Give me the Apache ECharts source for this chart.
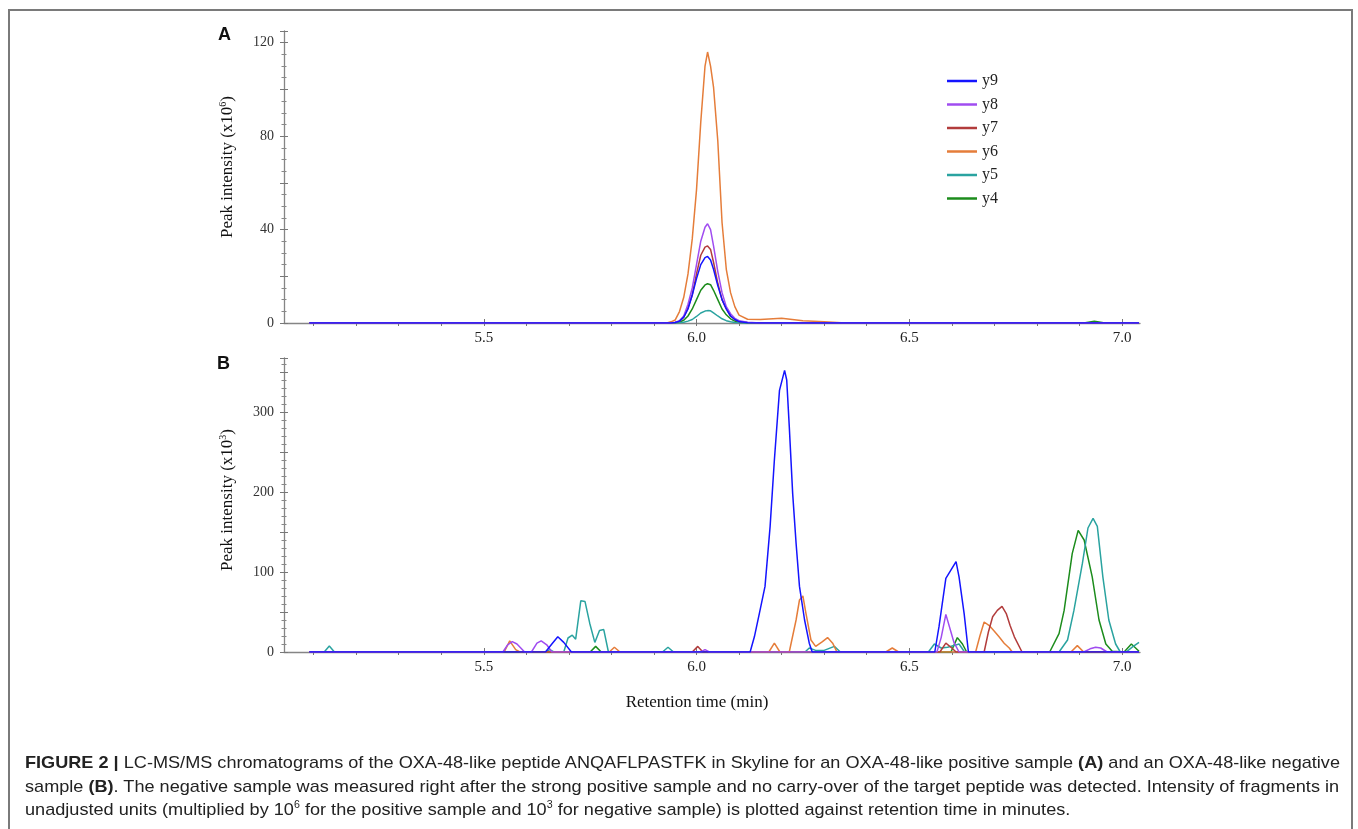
<!DOCTYPE html>
<html>
<head>
<meta charset="utf-8">
<title>Figure 2</title>
<script src="https://cdn.jsdelivr.net/npm/echarts@6/dist/echarts.min.js"></script>
<style>
body { margin: 0; background: #fff; }
#chart { position: absolute; left: 0; top: 0; width: 1358px; height: 829px; }
#frame { position: absolute; left: 8px; top: 9px; width: 1345px; height: 840px; border: 2px solid #7a7a7a; box-sizing: border-box; }
#caption { position: absolute; left: 25px; top: 751px; width: 1320px; font-family: 'Liberation Sans', Arial, sans-serif; font-size: 17px; line-height: 23.5px; color: #222; }
#caption div { white-space: nowrap; height: 23.5px; }
#caption span.ln { display: inline-block; transform-origin: 0 0; }
#caption sup { font-size: 10px; line-height: 0; }
</style>
</head>
<body>
<div id="frame"></div>
<div id="chart"></div>
<div id="caption">
  <div><span class="ln"><b>FIGURE 2 |</b> LC-MS/MS chromatograms of the OXA-48-like peptide ANQAFLPASTFK in Skyline for an OXA-48-like positive sample <b>(A)</b> and an OXA-48-like negative</span></div>
  <div><span class="ln">sample <b>(B)</b>. The negative sample was measured right after the strong positive sample and no carry-over of the target peptide was detected. Intensity of fragments in</span></div>
  <div><span class="ln">unadjusted units (multiplied by 10<sup>6</sup> for the positive sample and 10<sup>3</sup> for negative sample) is plotted against retention time in minutes.</span></div>
</div>
<script>
// fragment names, legend order
var ions = ['y9', 'y8', 'y7', 'y6', 'y5', 'y4'];
var ionColors = ['#1414ff', '#a04cf0', '#b23c3c', '#e57d3a', '#2aa3a0', '#1c8c1c'];

// x ticks (retention time, min)
var xTicks = [5.1, 5.2, 5.3, 5.4, 5.5, 5.6, 5.7, 5.8, 5.9, 6.0, 6.1, 6.2, 6.3, 6.4, 6.5, 6.6, 6.7, 6.8, 6.9, 7.0];
var xLabels = [5.5, 6.0, 6.5, 7.0];

// panel A : positive sample, intensity x10^6
var timesA = [5.09, 5.93, 5.94, 5.95, 5.96, 5.97, 5.98, 5.99, 6.00, 6.01, 6.02, 6.026, 6.033, 6.04, 6.05, 6.06, 6.07, 6.08, 6.09, 6.10, 6.12, 6.15, 6.20, 6.25, 6.30, 6.35, 6.91, 6.935, 6.96, 7.04];
var y9A = [0, 0, 0, 0.2, 0.8, 2.5, 6, 12, 19, 25, 28, 28.5, 27, 23, 16, 10, 6, 3, 1.5, 0.6, 0.1, 0, 0, 0, 0, 0, 0, 0, 0, 0];
var y8A = [0, 0, 0, 0.3, 1, 3, 8, 15, 25, 35, 41, 42.5, 40, 33, 22, 13, 7, 4, 2, 1, 0.3, 0, 0, 0, 0, 0, 0, 0, 0, 0];
var y7A = [0, 0, 0, 0.2, 0.8, 2.5, 6.5, 12, 21, 29, 32.5, 33, 31.5, 26, 17, 10, 6, 3, 1.5, 0.6, 0.2, 0, 0, 0, 0, 0, 0, 0, 0, 0];
var y6A = [0, 0, 0.5, 1.3, 4.9, 11, 21, 36, 57, 86, 110, 116, 110, 101, 78, 43, 23, 13, 7, 3.4, 1.6, 1.5, 2, 1, 0.5, 0, 0, 0, 0, 0];
var y5A = [0, 0, 0, 0, 0.1, 0.3, 0.8, 1.5, 2.8, 4.3, 5.1, 5.3, 5.2, 4.3, 3, 1.8, 1, 0.5, 0.2, 0.1, 0, 0, 0, 0, 0, 0, 0, 0, 0, 0];
var y4A = [0, 0, 0, 0.1, 0.4, 1.2, 3, 6, 10, 14, 16.3, 16.8, 16.4, 14, 10, 6, 3.5, 1.8, 0.8, 0.3, 0.1, 0, 0, 0, 0, 0, 0, 0.8, 0, 0];

// panel B : negative sample, intensity x10^3, [time, value]
var y9B = [[5.09, 0], [5.645, 0], [5.66, 10], [5.674, 19], [5.688, 12], [5.706, 0], [6.126, 0], [6.136, 19], [6.148, 49], [6.161, 82], [6.173, 157], [6.183, 240], [6.195, 327], [6.207, 352], [6.212, 340], [6.218, 282], [6.226, 198], [6.234, 136], [6.242, 82], [6.254, 40], [6.265, 11], [6.272, 0], [6.56, 0], [6.570, 32], [6.586, 92], [6.610, 113], [6.617, 94], [6.629, 48], [6.639, 0], [7.04, 0]];
var y8B = [[5.09, 0], [5.545, 0], [5.556, 9], [5.567, 13], [5.578, 10], [5.596, 0], [5.612, 0], [5.625, 11], [5.635, 14], [5.648, 9], [5.66, 0], [6.01, 0], [6.02, 3], [6.03, 0], [6.565, 0], [6.575, 18], [6.586, 47], [6.598, 25], [6.605, 12], [6.617, 0], [6.91, 0], [6.925, 4], [6.938, 6], [6.95, 5], [6.965, 0], [7.04, 0]];
var y7B = [[5.09, 0], [5.99, 0], [6.003, 7], [6.015, 0], [6.572, 0], [6.586, 11], [6.60, 5], [6.61, 0], [6.676, 0], [6.686, 25], [6.696, 44], [6.707, 52], [6.718, 57], [6.728, 48], [6.737, 33], [6.747, 19], [6.765, 0], [7.04, 0]];
var y6B = [[5.09, 0], [5.548, 0], [5.561, 14], [5.575, 3], [5.585, 0], [5.795, 0], [5.807, 6], [5.82, 0], [6.17, 0], [6.183, 11], [6.196, 0], [6.218, 0], [6.234, 40], [6.242, 65], [6.250, 70], [6.257, 49], [6.269, 15], [6.28, 7], [6.296, 13], [6.308, 18], [6.32, 11], [6.33, 0], [6.445, 0], [6.46, 5], [6.475, 0], [6.656, 0], [6.666, 20], [6.676, 37.5], [6.688, 33], [6.70, 26], [6.711, 19], [6.723, 11], [6.735, 5], [6.742, 0], [6.88, 0], [6.895, 8], [6.91, 0], [7.04, 0]];
var y5B = [[5.09, 0], [5.125, 0], [5.137, 7.5], [5.149, 0], [5.645, 0], [5.655, 3], [5.665, 0], [5.688, 0], [5.698, 17.5], [5.708, 21], [5.716, 16], [5.728, 64], [5.738, 63], [5.749, 36], [5.761, 12], [5.772, 27], [5.782, 28], [5.793, 0], [5.92, 0], [5.933, 6], [5.946, 0], [6.255, 0], [6.265, 5], [6.28, 2], [6.30, 2], [6.324, 7], [6.338, 0], [6.545, 0], [6.559, 10], [6.575, 5], [6.59, 6], [6.605, 8], [6.617, 10], [6.63, 0], [6.852, 0], [6.872, 15], [6.887, 52], [6.907, 111], [6.920, 155], [6.932, 167], [6.942, 157], [6.955, 94], [6.969, 40], [6.985, 10], [6.996, 0], [7.01, 0], [7.024, 6], [7.04, 12]];
var y4B = [[5.09, 0], [5.75, 0], [5.763, 7], [5.776, 0], [6.598, 0], [6.613, 18], [6.625, 10], [6.635, 0], [6.830, 0], [6.852, 23], [6.864, 52], [6.883, 123], [6.897, 152], [6.911, 140], [6.930, 94], [6.946, 40], [6.962, 10], [6.977, 1], [7.005, 0], [7.022, 10], [7.04, 1]];

var X_MIN = 5.0305, X_MAX = 7.0423;
var serif = 'Liberation Serif';
var axisGray = '#858585';

function xAxisMain(grid, withName) {
	var ax = {
		type : 'value', gridIndex : grid, min : X_MIN, max : X_MAX, position : 'bottom',
		axisLine : { lineStyle : { color : axisGray, width : 1.3 } },
		axisTick : { customValues : xTicks, length : 3, lineStyle : { color : '#777' } },
		axisLabel : { customValues : xLabels, margin : 8, fontFamily : serif, fontSize : 15, color : '#222',
			formatter : function(v) { return v.toFixed(1); } },
		splitLine : { show : false }
	};
	if (withName) {
		ax.name = 'Retention time (min)';
		ax.nameLocation = 'middle';
		ax.nameGap = 42;
		ax.nameTextStyle = { fontFamily : serif, fontSize : 17, color : '#111', padding : [ 0, 30, 0, 0 ] };
	}
	return ax;
}
function xAxisInner(grid) {
	return {
		type : 'value', gridIndex : grid, min : X_MIN, max : X_MAX, position : 'bottom',
		axisLine : { show : false },
		axisTick : { inside : true, customValues : xLabels, length : 4, lineStyle : { color : '#777' } },
		axisLabel : { show : false }, splitLine : { show : false }
	};
}
function yAxisMain(grid, max, interval, step, minor, nameRich, pad) {
	return {
		type : 'value', gridIndex : grid, min : 0, max : max, interval : interval, position : 'left',
		axisLine : { show : true, lineStyle : { color : axisGray, width : 1.3 } },
		axisTick : { show : true, length : 4, lineStyle : { color : '#777' } },
		minorTick : { show : true, splitNumber : minor, length : 2.5, lineStyle : { color : '#888' } },
		axisLabel : { margin : 10, fontFamily : serif, fontSize : 14, color : '#333',
			formatter : function(v) { return v % step === 0 ? String(v) : ''; } },
		splitLine : { show : false },
		name : nameRich, nameLocation : 'middle', nameRotate : 90, nameGap : 46,
		nameTextStyle : { fontFamily : serif, fontSize : 17, color : '#111', padding : pad,
			rich : {
				a : { fontFamily : serif, fontSize : 17, color : '#111', lineHeight : 20 },
				s : { fontFamily : serif, fontSize : 10, color : '#111', lineHeight : 20, verticalAlign : 'top', padding : [ 0, 0, 6, 0 ] }
			} }
	};
}
function yAxisInner(grid, max, interval, minor) {
	return {
		type : 'value', gridIndex : grid, min : 0, max : max, interval : interval, position : 'left',
		axisLine : { show : false },
		axisTick : { show : true, inside : true, length : 4, lineStyle : { color : '#777' } },
		minorTick : { show : true, splitNumber : minor, length : 2.5, lineStyle : { color : '#888' } },
		axisLabel : { show : false }, splitLine : { show : false }
	};
}

var seriesList = [];
var dataA = [ y9A, y8A, y7A, y6A, y5A, y4A ];
var dataB = [ y9B, y8B, y7B, y6B, y5B, y4B ];
// draw y4 first so y9 (blue) ends up on top
for (var i = ions.length - 1; i >= 0; i--) {
	seriesList.push({
		name : ions[i], type : 'line', xAxisIndex : 0, yAxisIndex : 0,
		showSymbol : false, symbol : 'none', smooth : false,
		lineStyle : { width : 1.5, color : ionColors[i] }, itemStyle : { color : ionColors[i] },
		data : timesA.map(function(t, k) { return [ t, dataA[i][k] ]; })
	});
}
for (var j = ions.length - 1; j >= 0; j--) {
	seriesList.push({
		name : ions[j], type : 'line', xAxisIndex : 2, yAxisIndex : 2,
		showSymbol : false, symbol : 'none', smooth : false,
		lineStyle : { width : 1.5, color : ionColors[j] }, itemStyle : { color : ionColors[j] },
		data : dataB[j]
	});
}

var chart = echarts.init(document.getElementById('chart'), null, { renderer : 'canvas' });
chart.setOption({
	animation : false,
	backgroundColor : 'transparent',
	grid : [
		{ left : 284, right : 218, top : 31, height : 292 },
		{ left : 284, right : 218, top : 358, height : 294 }
	],
	legend : {
		data : ions, orient : 'vertical', left : 942, top : 68,
		icon : 'rect', itemWidth : 30, itemHeight : 2.5, itemGap : 7.5,
		textStyle : { fontFamily : serif, fontSize : 16, color : '#222', lineHeight : 16 }
	},
	xAxis : [ xAxisMain(0, false), xAxisInner(0), xAxisMain(1, true), xAxisInner(1) ],
	yAxis : [
		yAxisMain(0, 125, 20, 40, 4, '{a|Peak intensity (x10}{s|6}{a|)}', [ 0, 0, 0, 20 ]),
		yAxisInner(0, 125, 20, 4),
		yAxisMain(1, 367.5, 50, 100, 5, '{a|Peak intensity (x10}{s|3}{a|)}', [ 0, 0, 0, 10 ]),
		yAxisInner(1, 367.5, 50, 5)
	],
	graphic : [
		{ type : 'text', left : 218, top : 26, style : { text : 'A', font : 'bold 18px "Liberation Sans", Arial, sans-serif', fill : '#111' } },
		{ type : 'text', left : 217, top : 355, style : { text : 'B', font : 'bold 18px "Liberation Sans", Arial, sans-serif', fill : '#111' } }
	],
	series : seriesList
});

// squeeze caption lines (condensed face in the original) to the figure width
var capLines = document.querySelectorAll('#caption span.ln');
var w0 = capLines[0].getBoundingClientRect().width;
var sx = 1315 / w0;
for (var c = 0; c < capLines.length; c++) {
	capLines[c].style.transform = 'scaleX(' + sx + ')';
}
</script>
</body>
</html>
